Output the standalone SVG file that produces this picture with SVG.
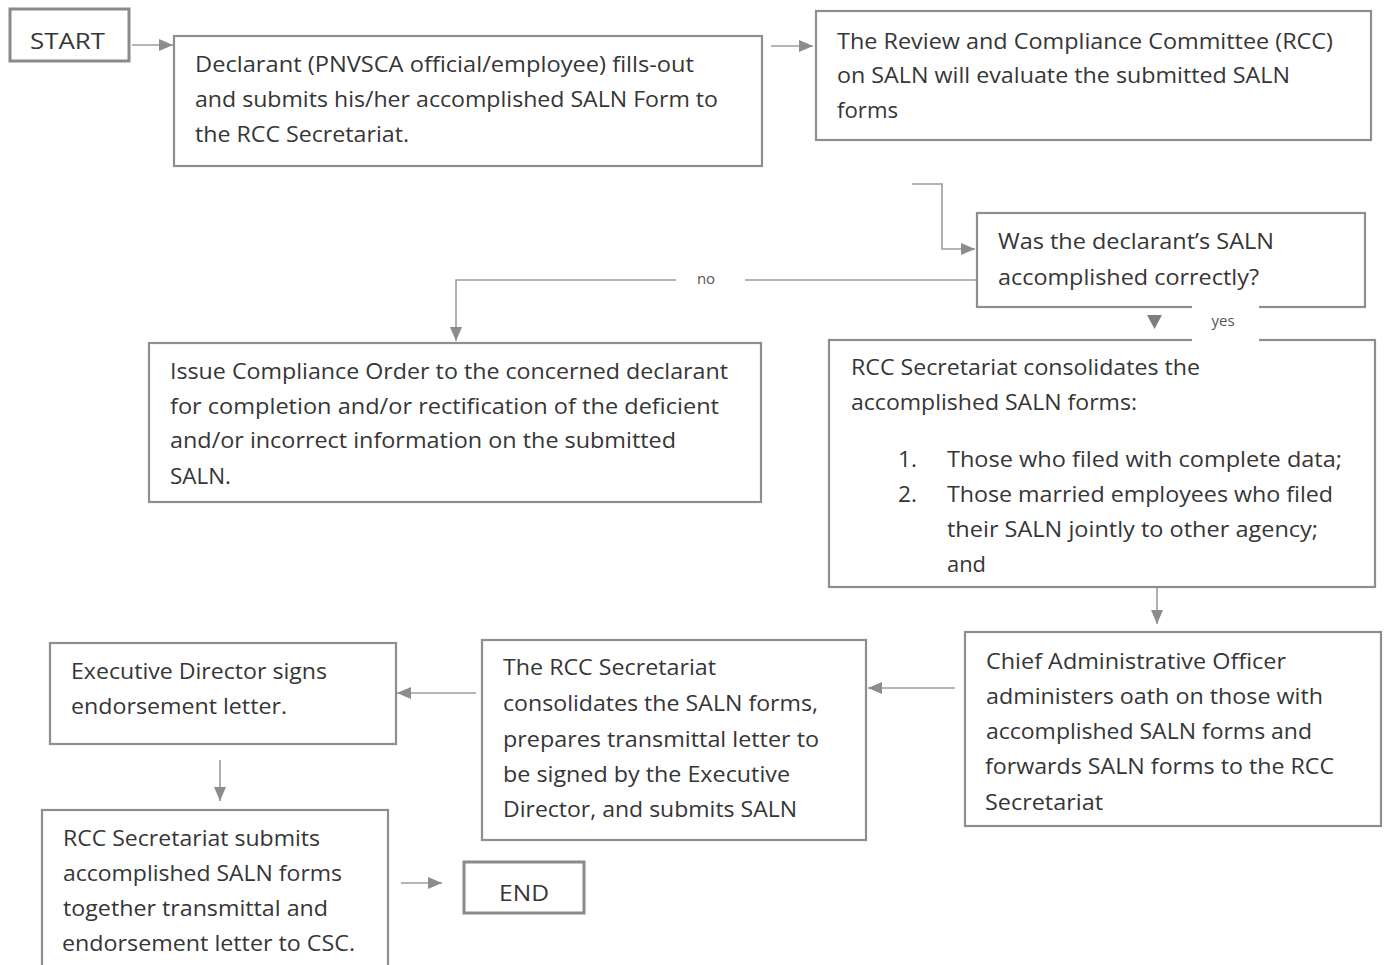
<svg xmlns="http://www.w3.org/2000/svg" width="1384" height="965" viewBox="0 0 1384 965">
<style>
.bx{fill:#fff;stroke:#8e8e8e;stroke-width:2.2}
.bx2{fill:#fff;stroke:#8a8a8a;stroke-width:3}
.t{font-family:"Open Sans","Noto Sans",sans-serif;font-size:22.5px;fill:#363636}
.s{font-family:"Open Sans","Noto Sans",sans-serif;font-size:15px;fill:#555}
.c{fill:none;stroke:#9c9c9c;stroke-width:1.6}
</style>
<defs>
<marker id="ah" viewBox="0 0 14 12" refX="14" refY="6" markerWidth="14" markerHeight="12" markerUnits="userSpaceOnUse" orient="auto">
<path d="M0,0 L14,6 L0,12 z" fill="#8c8c8c"/>
</marker>
</defs>
<rect width="1384" height="965" fill="#fff"/>
<g id="connectors">
<path class="c" d="M132,45 L173,45" marker-end="url(#ah)"/>
<path class="c" d="M771,46 L813,46" marker-end="url(#ah)"/>
<path class="c" d="M912,184 L942,184 L942,249 L975,249" marker-end="url(#ah)"/>
<path class="c" d="M976,280 L745,280"/>
<path class="c" d="M676,280 L456,280 L456,341" marker-end="url(#ah)"/>
<path d="M1147,315 L1162,315 L1154.5,329 z" fill="#7e7e7e"/>
<path class="c" d="M1157,582 L1157,624" marker-end="url(#ah)"/>
<path class="c" d="M955,688 L868,688" marker-end="url(#ah)"/>
<path class="c" d="M476,693 L397,693" marker-end="url(#ah)"/>
<path class="c" d="M220,760 L220,801" marker-end="url(#ah)"/>
<path class="c" d="M401,883 L442,883" marker-end="url(#ah)"/>
</g>
<g id="start">
<rect class="bx2" x="10" y="9" width="119" height="52"/>
<text class="t" x="30" y="49" textLength="75" lengthAdjust="spacingAndGlyphs">START</text>
</g>
<g id="declarant">
<rect class="bx" x="174" y="36" width="588" height="130"/>
<text class="t" x="195" y="72" textLength="499" lengthAdjust="spacingAndGlyphs">Declarant (PNVSCA official/employee) fills-out</text>
<text class="t" x="195" y="107" textLength="523" lengthAdjust="spacingAndGlyphs">and submits his/her accomplished SALN Form to</text>
<text class="t" x="195" y="142" textLength="214" lengthAdjust="spacingAndGlyphs">the RCC Secretariat.</text>
</g>
<g id="review">
<rect class="bx" x="816" y="11" width="555" height="129"/>
<text class="t" x="837" y="49" textLength="496" lengthAdjust="spacingAndGlyphs">The Review and Compliance Committee (RCC)</text>
<text class="t" x="837" y="83" textLength="453" lengthAdjust="spacingAndGlyphs">on SALN will evaluate the submitted SALN</text>
<text class="t" x="837" y="118" textLength="61" lengthAdjust="spacingAndGlyphs">forms</text>
</g>
<g id="decision">
<rect class="bx" x="977" y="213" width="388" height="94"/>
<text class="t" x="998" y="249" textLength="276" lengthAdjust="spacingAndGlyphs">Was the declarant’s SALN</text>
<text class="t" x="998" y="285" textLength="261" lengthAdjust="spacingAndGlyphs">accomplished correctly?</text>
</g>
<g id="issue">
<rect class="bx" x="149" y="343" width="612" height="159"/>
<text class="t" x="170" y="379" textLength="558" lengthAdjust="spacingAndGlyphs">Issue Compliance Order to the concerned declarant</text>
<text class="t" x="170" y="414" textLength="549" lengthAdjust="spacingAndGlyphs">for completion and/or rectification of the deficient</text>
<text class="t" x="170" y="448" textLength="506" lengthAdjust="spacingAndGlyphs">and/or incorrect information on the submitted</text>
<text class="t" x="170" y="484" textLength="61" lengthAdjust="spacingAndGlyphs">SALN.</text>
</g>
<g id="consolidate">
<rect class="bx" x="829" y="340" width="546" height="247"/>
<text class="t" x="851" y="375" textLength="349" lengthAdjust="spacingAndGlyphs">RCC Secretariat consolidates the</text>
<text class="t" x="851" y="410" textLength="286" lengthAdjust="spacingAndGlyphs">accomplished SALN forms:</text>
<text class="t" x="898" y="467" textLength="19" lengthAdjust="spacingAndGlyphs">1.</text>
<text class="t" x="947" y="467" textLength="395" lengthAdjust="spacingAndGlyphs">Those who filed with complete data;</text>
<text class="t" x="898" y="502" textLength="19" lengthAdjust="spacingAndGlyphs">2.</text>
<text class="t" x="947" y="502" textLength="386" lengthAdjust="spacingAndGlyphs">Those married employees who filed</text>
<text class="t" x="947" y="537" textLength="371" lengthAdjust="spacingAndGlyphs">their SALN jointly to other agency;</text>
<text class="t" x="947" y="572" textLength="39" lengthAdjust="spacingAndGlyphs">and</text>
</g>
<g id="labels">
<text class="s" x="706" y="284" text-anchor="middle">no</text>
<rect x="1192" y="300" width="67" height="46" fill="#fff"/>
<text class="s" x="1223" y="326" text-anchor="middle">yes</text>
</g>
<g id="chief">
<rect class="bx" x="965" y="632" width="416" height="194"/>
<text class="t" x="986" y="669" textLength="300" lengthAdjust="spacingAndGlyphs">Chief Administrative Officer</text>
<text class="t" x="986" y="704" textLength="337" lengthAdjust="spacingAndGlyphs">administers oath on those with</text>
<text class="t" x="986" y="739" textLength="326" lengthAdjust="spacingAndGlyphs">accomplished SALN forms and</text>
<text class="t" x="985" y="774" textLength="349" lengthAdjust="spacingAndGlyphs">forwards SALN forms to the RCC</text>
<text class="t" x="985" y="810" textLength="118" lengthAdjust="spacingAndGlyphs">Secretariat</text>
</g>
<g id="rccsec">
<rect class="bx" x="482" y="640" width="384" height="200"/>
<text class="t" x="503" y="675" textLength="213" lengthAdjust="spacingAndGlyphs">The RCC Secretariat</text>
<text class="t" x="503" y="711" textLength="315" lengthAdjust="spacingAndGlyphs">consolidates the SALN forms,</text>
<text class="t" x="503" y="747" textLength="316" lengthAdjust="spacingAndGlyphs">prepares transmittal letter to</text>
<text class="t" x="503" y="782" textLength="287" lengthAdjust="spacingAndGlyphs">be signed by the Executive</text>
<text class="t" x="503" y="817" textLength="294" lengthAdjust="spacingAndGlyphs">Director, and submits SALN</text>
</g>
<g id="exec">
<rect class="bx" x="50" y="643" width="346" height="101"/>
<text class="t" x="71" y="679" textLength="256" lengthAdjust="spacingAndGlyphs">Executive Director signs</text>
<text class="t" x="71" y="714" textLength="216" lengthAdjust="spacingAndGlyphs">endorsement letter.</text>
</g>
<g id="submits">
<rect class="bx" x="42" y="810" width="346" height="170"/>
<text class="t" x="63" y="846" textLength="257" lengthAdjust="spacingAndGlyphs">RCC Secretariat submits</text>
<text class="t" x="63" y="881" textLength="279" lengthAdjust="spacingAndGlyphs">accomplished SALN forms</text>
<text class="t" x="63" y="916" textLength="265" lengthAdjust="spacingAndGlyphs">together transmittal and</text>
<text class="t" x="62" y="951" textLength="293" lengthAdjust="spacingAndGlyphs">endorsement letter to CSC.</text>
</g>
<g id="end">
<rect class="bx2" x="464" y="862" width="120" height="51"/>
<text class="t" x="499" y="901" textLength="50" lengthAdjust="spacingAndGlyphs">END</text>
</g>
</svg>
